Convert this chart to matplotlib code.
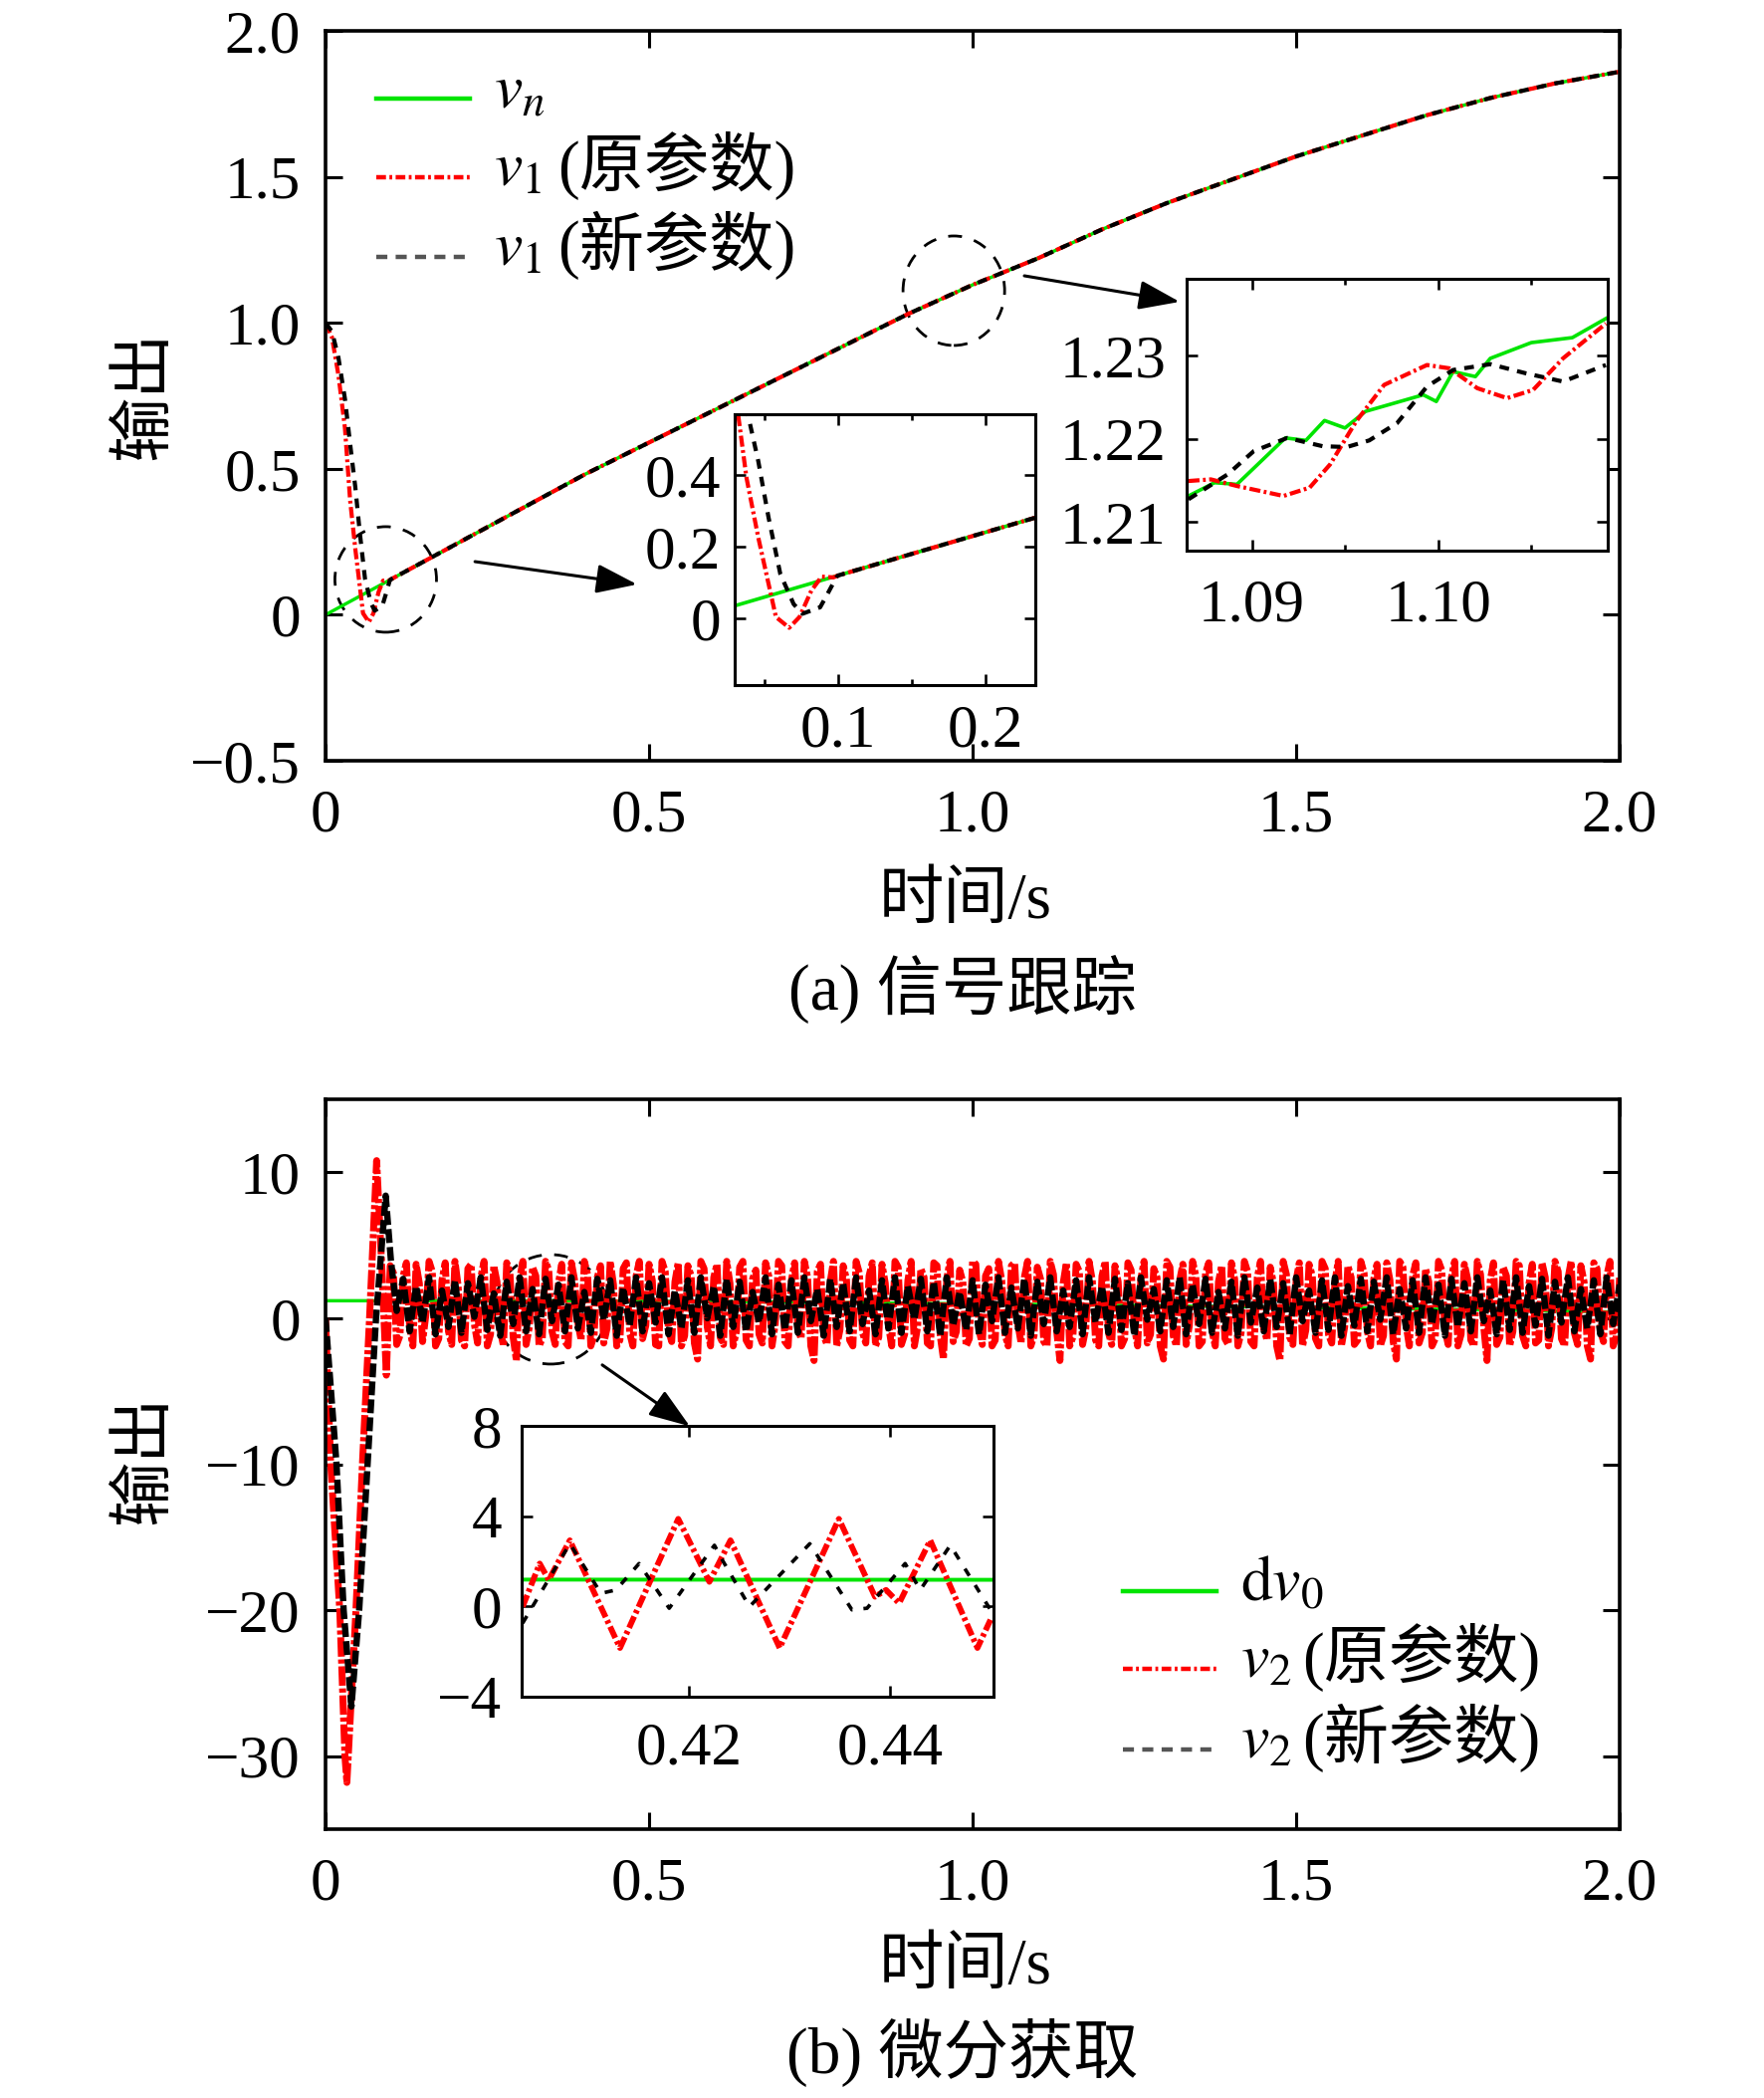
import numpy as np
import matplotlib
matplotlib.use("Agg")
import matplotlib.pyplot as plt
from matplotlib.patches import Ellipse
from matplotlib.lines import Line2D

plt.rcParams['font.family'] = ['Liberation Serif', 'Noto Sans CJK SC']
plt.rcParams['mathtext.fontset'] = 'stix'
plt.rcParams['lines.scale_dashes'] = False

W, H, DPI = 1772, 2107, 100

# ── (a) signal tracking ───────────────────────────────────────────────────────
t_coarse = [0.0, 0.1, 0.2, 0.3, 0.4, 0.5, 0.6, 0.7, 0.8, 0.9, 1.0,
            1.1, 1.2, 1.3, 1.4, 1.5, 1.6, 1.7, 1.8, 1.9, 2.0]
vn = [0.0, 0.12, 0.24, 0.36, 0.48, 0.59, 0.70, 0.81, 0.92, 1.03, 1.13,
      1.22, 1.32, 1.41, 1.49, 1.57, 1.64, 1.71, 1.77, 1.82, 1.86]

# transient of v1 before it joins vn (t < 0.1)
t_v1_old_start = [0.0, 0.01, 0.02, 0.03, 0.038, 0.046, 0.053, 0.058, 0.067,
                  0.074, 0.082, 0.089, 0.097]
v1_old_start = [1.0, 0.95, 0.82, 0.64, 0.392, 0.226, 0.097, 0.005, -0.025,
                0.005, 0.078, 0.117, 0.115]
t_v1_new_start = [0.0, 0.01, 0.02, 0.03, 0.039, 0.046, 0.053, 0.061, 0.070,
                  0.076, 0.088, 0.093, 0.099]
v1_new_start = [1.0, 0.97, 0.88, 0.74, 0.567, 0.438, 0.281, 0.124, 0.041,
                0.014, 0.032, 0.069, 0.115]

# detail around t = 1.1 s
t_zoom_vn = [1.0866, 1.0880, 1.0892, 1.0918, 1.0929, 1.0939, 1.0950, 1.0961,
             1.0992, 1.0999, 1.1008, 1.1020, 1.1028, 1.1050, 1.1072, 1.1090]
vn_zoom = [1.2131, 1.2147, 1.2145, 1.2201, 1.2198, 1.2222, 1.2213, 1.2233,
           1.2253, 1.2245, 1.2281, 1.2275, 1.2297, 1.2316, 1.2322, 1.2345]
t_zoom_old = [1.0866, 1.0878, 1.0892, 1.0917, 1.0931, 1.0942, 1.0956, 1.0971,
              1.0994, 1.1006, 1.1021, 1.1037, 1.1051, 1.1067, 1.1090]
v1_zoom_old = [1.2149, 1.2151, 1.2143, 1.2131, 1.2141, 1.2169, 1.2221, 1.2265,
               1.2289, 1.2285, 1.2261, 1.2249, 1.2259, 1.2297, 1.2339]
t_zoom_new = [1.0866, 1.0887, 1.0901, 1.0919, 1.0938, 1.0951, 1.0963, 1.0978,
              1.0994, 1.1008, 1.1028, 1.1047, 1.1067, 1.1090]
v1_zoom_new = [1.2127, 1.2157, 1.2185, 1.2201, 1.2191, 1.2190, 1.2198, 1.2219,
               1.2263, 1.2283, 1.2290, 1.2279, 1.2269, 1.2289]

# ── (b) derivative ────────────────────────────────────────────────────────────
dv0 = [1.20, 1.20, 1.20, 1.20, 1.19, 1.17, 1.14, 1.11, 1.07, 1.03, 0.99,
       0.95, 0.90, 0.85, 0.80, 0.75, 0.69, 0.63, 0.57, 0.50, 0.43]

t_v2_old_start = [0.0, 0.008, 0.022, 0.030, 0.033, 0.047, 0.057, 0.068,
                  0.079, 0.087, 0.094]
v2_old_start = [0.0, -10.0, -20.0, -30.0, -31.8, -20.0, -10.0, 0.0,
                10.8, 3.5, -3.9]
t_v2_new_start = [0.0, 0.017, 0.028, 0.040, 0.052, 0.065, 0.078, 0.093,
                  0.101, 0.110]
v2_new_start = [0.0, -10.0, -20.0, -26.6, -20.0, -10.0, 0.0, 8.4, 4.0, 0.5]

# steady-state chatter of v2 (original parameters), sampled every 0.005 s
t_v2_old_noise = np.round(np.arange(0.10, 2.0025, 0.005), 3)
v2_old_noise = [
    3.6, 3.1, -1.8, -1.2, 2.9, 3.8, -0.6, -1.9, 3.7, 2.4, -1.6, 0.2, 3.9, 3.2, -1.9, -1.4, 2.6, 3.8, -0.9, -1.8,
    3.9, 2.2, -1.5, -1.9, 3.4, 3.7, -0.4, -1.7, 2.8, 3.9, -1.9, -1.1, 3.6, 2.5, -0.8, -1.9, 3.8, 3.1, -1.3, -2.9,
    2.7, 3.9, -1.8, -0.6, 3.5, 2.9, -1.9, -1.4, 3.9, 3.3, -0.9, -1.8, 2.4, 3.7, -1.6, -1.9, 3.8, 2.6, -0.3, -1.5,
    3.9, 3.0, -1.9, -1.2, 2.8, 3.6, -1.7, -0.7, 3.9, 2.3, -1.9, -1.5, 3.4, 3.8, -1.0, -1.9, 2.9, 3.9, -1.4, -0.5,
    3.7, 2.6, -1.8, -1.9, 3.9, 3.2, -0.8, -1.6, 2.5, 3.8, -1.9, -1.2, 3.6, 2.9, -1.7, -2.8, 3.9, 3.4, -0.6, -1.9,
    2.8, 3.7, -1.3, -1.8, 3.9, 2.4, -1.9, -0.9, 3.5, 3.9, -1.5, -1.9, 2.7, 3.3, -1.1, -1.7, 3.8, 2.9, -1.9, -0.4,
    3.9, 3.6, -1.6, -1.9, 2.6, 3.8, -0.7, -1.4, 3.9, 2.8, -1.9, -2.9, 3.2, 3.7, -1.2, -1.8, 2.5, 3.9, -1.9, -0.8,
    3.6, 2.7, -1.5, -1.9, 3.9, 3.1, -1.0, -1.7, 2.9, 3.8, -1.9, -1.3, 3.7, 2.4, -0.5, -1.9, 3.9, 3.5, -1.8, -1.1,
    2.6, 3.9, -1.9, -0.6, 3.4, 2.8, -1.7, -1.9, 3.8, 3.6, -1.2, -2.8, 2.7, 3.9, -1.6, -0.9, 3.3, 2.5, -1.9, -1.4,
    3.9, 3.7, -0.8, -1.8, 2.9, 3.4, -1.9, -1.5, 3.9, 2.6, -1.1, -1.9, 3.6, 3.8, -0.4, -1.7, 2.8, 3.9, -1.9, -1.2,
    3.5, 2.7, -1.6, -1.9, 3.9, 3.0, -0.9, -2.9, 2.4, 3.8, -1.9, -1.3, 3.7, 3.2, -1.8, -0.7, 3.9, 2.6, -1.5, -1.9,
    2.9, 3.9, -1.0, -1.8, 3.6, 2.5, -1.9, -1.4, 3.8, 3.3, -0.6, -1.9, 2.7, 3.9, -1.7, -1.1, 3.4, 2.8, -1.9, -2.8,
    3.9, 3.5, -1.2, -1.9, 2.6, 3.7, -1.8, -0.5, 3.9, 2.9, -1.9, -1.6, 3.1, 3.8, -0.9, -1.9, 2.5, 3.6, -1.4, -1.8,
    3.8, 2.7, -1.9, -1.0, 3.9, 3.2, -1.6, -1.9, 2.8, 3.9, -0.7, -1.5, 3.5, 2.4, -1.9, -2.9, 3.9, 3.0, -1.3, -1.8,
    2.6, 3.8, -1.9, -0.8, 3.7, 2.9, -1.4, -1.9, 3.9, 3.4, -1.1, -1.7, 2.5, 3.9, -1.9, -0.6, 3.6, 2.8, -1.8, -1.5,
    3.9, 3.1, -0.9, -1.9, 2.7, 3.7, -1.9, -1.2, 3.8, 2.6, -1.6, -2.8, 3.9, 3.5, -0.5, -1.9, 2.9, 3.8, -1.7, -1.0,
    3.4, 2.5, -1.9, -1.4, 3.9, 3.3, -0.8, -1.8, 2.8, 3.9, -1.9, -1.1, 3.7, 2.7, -1.5, -1.9, 3.9, 3.0, -0.6, -2.9,
    2.6, 3.8, -1.8, -1.3, 3.5, 2.9, -1.9, -0.9, 3.9, 3.6, -1.2, -1.9, 2.4, 3.7, -1.7, -1.5, 3.8, 2.8, -1.9, -0.7,
    3.9, 3.2, -1.4, -1.9, 2.7, 3.9, -1.0, -1.8, 3.6, 2.5, -1.9, -2.8, 3.8, 3.4, -0.8, -1.6, 2.9, 3.9, -1.9, -1.2,
    2.9,
]
# steady-state chatter of v2 (new parameters), sampled every 0.01 s
t_v2_new_noise = np.round(np.arange(0.12, 2.005, 0.01), 2)
v2_new_noise = [
    2.7, -0.9, 2.2, -0.3, 2.8, -1.1, 1.9, -0.6, 2.6, -1.0,
    2.4, 0.1, 2.8, -0.8, 1.7, -1.2, 2.5, -0.4, 2.8, -0.9,
    2.0, -1.1, 2.7, -0.2, 2.3, -0.9, 2.8, -0.7, 1.8, -1.0,
    2.7, -0.1, 2.6, -1.2, 2.1, -0.5, 2.8, -0.9, 2.4, -0.3,
    2.8, -1.1, 1.9, -0.7, 2.6, -1.0, 2.8, 0.0, 2.2, -1.2,
    2.7, -0.6, 2.5, -0.9, 1.8, -0.3, 2.8, -1.1, 2.3, -0.8,
    2.6, -1.0, 2.8, -0.2, 2.0, -1.2, 2.7, -0.6, 2.4, -0.9,
    2.8, -0.4, 1.9, -1.1, 2.6, -0.7, 2.8, -1.0, 2.2, -0.1,
    2.7, -0.9, 2.5, -1.2, 2.8, -0.5, 1.8, -0.8, 2.6, -1.1,
    2.3, -0.2, 2.8, -1.0, 2.1, -0.7, 2.7, -1.2, 2.5, -0.4,
    2.8, -0.9, 1.9, -0.6, 2.6, -1.1, 2.8, -0.3, 2.2, -1.0,
    2.7, -0.8, 2.4, -1.2, 2.8, -0.1, 2.0, -0.9, 2.6, -0.6,
    2.8, -1.1, 2.3, -0.4, 2.7, -1.0, 1.8, -0.7, 2.5, -1.2,
    2.8, -0.3, 2.1, -0.9, 2.7, -0.6, 2.4, -1.1, 2.8, -0.2,
    1.9, -1.0, 2.6, -0.8, 2.8, -1.2, 2.2, -0.5, 2.7, -0.9,
    2.5, -0.1, 2.8, -1.1, 2.0, -0.7, 2.6, -1.0, 2.8, -0.4,
    2.3, -1.2, 2.7, -0.6, 2.4, -0.9, 2.8, -0.2, 1.9, -1.1,
    2.6, -0.8, 2.8, -1.0, 2.2, -0.5, 2.7, -1.2, 2.5, -0.3,
    2.8, -0.9, 2.0, -0.7, 2.6, -1.1, 2.8, -0.4, 2.3,
]

# detail around t = 0.42 s
t_zoom2_old = [0.4034, 0.4051, 0.4060, 0.4081, 0.4131, 0.4189, 0.4220, 0.4241,
               0.4290, 0.4349, 0.4385, 0.4396, 0.4409, 0.4440, 0.4487, 0.4500]
v2_zoom_old = [-0.01, 1.90, 1.17, 2.93, -1.84, 3.88, 1.09, 2.93,
               -1.84, 3.88, 0.43, 0.73, 0.14, 2.93, -1.84, -0.59]
t_zoom2_new = [0.4034, 0.4081, 0.4112, 0.4127, 0.4150, 0.4180, 0.4225, 0.4233,
               0.4260, 0.4320, 0.4362, 0.4377, 0.4415, 0.4430, 0.4460, 0.4500]
v2_zoom_new = [-0.74, 2.78, 0.58, 0.73, 1.90, -0.08, 2.71, 2.05,
               -0.01, 2.78, -0.15, -0.08, 1.90, 0.73, 2.71, -0.15]

t_v1_old = t_v1_old_start + t_coarse[1:]
v1_old = v1_old_start + vn[1:]
t_v1_new = t_v1_new_start + t_coarse[1:]
v1_new = v1_new_start + vn[1:]
t_v2_old = np.concatenate([t_v2_old_start, t_v2_old_noise])
v2_old = np.concatenate([v2_old_start, v2_old_noise])
t_v2_new = np.concatenate([t_v2_new_start, t_v2_new_noise])
v2_new = np.concatenate([v2_new_start, v2_new_noise])

GREEN, RED, BLACK = '#00e400', '#ff0000', '#000000'
DASHDOT = (0, (8, 2.5, 2, 2.5))
DASHED = (0, (7, 6))
CJK_FS = 47

fig = plt.figure(figsize=(W / DPI, H / DPI), dpi=DPI)


def box(l, t, r, b):
    return [l / W, 1 - b / H, (r - l) / W, (b - t) / H]


def style(ax, major=12, minor=6, lw=2.6, xpad=20, ypad=18):
    for s in ax.spines.values():
        s.set_linewidth(lw)
    ax.tick_params(which='both', direction='in', top=True, right=True,
                   labelsize=44, width=lw * 0.85)
    ax.tick_params(which='major', length=major)
    ax.tick_params(which='minor', length=minor)
    ax.tick_params(axis='x', pad=xpad)
    ax.tick_params(axis='y', pad=ypad)


ax1 = fig.add_axes(box(327, 31, 1627, 764))
ax2 = fig.add_axes(box(327, 1104, 1627, 1837))
in1 = fig.add_axes(box(738, 416, 1040, 688))
in2 = fig.add_axes(box(1192, 280, 1615, 553))
in3 = fig.add_axes(box(524, 1432, 998, 1704))

xt = [0, 0.5, 1.0, 1.5, 2.0]
xt_lab = ['0', '0.5', '1.0', '1.5', '2.0']

# ── top panel ────────────────────────────────────────────────────────────────
ax1.plot(t_coarse, vn, color=GREEN, lw=2.4)
ax1.plot(t_v1_old, v1_old, color=RED, lw=3.0, ls=DASHDOT)
ax1.plot(t_v1_new, v1_new, color=BLACK, lw=3.0, ls=DASHED)
ax1.set_xlim(0, 2)
ax1.set_ylim(-0.5, 2.0)
ax1.set_xticks(xt, xt_lab)
ax1.set_yticks([-0.5, 0, 0.5, 1.0, 1.5, 2.0],
               ['\u22120.5', '0', '0.5', '1.0', '1.5', '2.0'])
style(ax1)

ax1.add_patch(Ellipse((0.093, 0.121), 0.157, 0.3615, fill=False, ec='k',
                      lw=2.0, ls=(0, (10, 9)), clip_on=False))
ax1.add_patch(Ellipse((0.971, 1.11), 0.157, 0.375, fill=False, ec='k',
                      lw=2.0, ls=(0, (10, 9)), clip_on=False))
arrow = dict(arrowstyle='-|>,head_length=1.4,head_width=0.5', color='k',
             lw=2.2, shrinkA=0, shrinkB=0, mutation_scale=18)
ax1.annotate('', xy=(0.4815, 0.104), xytext=(0.231, 0.182), arrowprops=arrow)
ax1.annotate('', xy=(1.32, 1.072), xytext=(1.08, 1.161), arrowprops=arrow)

in1.plot(t_coarse, vn, color=GREEN, lw=2.6)
in1.plot(t_v1_old, v1_old, color=RED, lw=3.0, ls=DASHDOT)
in1.plot(t_v1_new, v1_new, color=BLACK, lw=3.0, ls=DASHED)
in1.set_xlim(0.03, 0.234)
in1.set_ylim(-0.184, 0.568)
in1.set_xticks([0.1, 0.2], ['0.1', '0.2'])
in1.set_xticks([0.05, 0.15], minor=True)
in1.set_yticks([0, 0.2, 0.4], ['0', '0.2', '0.4'])
style(in1, major=8, minor=4, lw=2.2, xpad=14, ypad=10)

in2.plot(t_zoom_vn, vn_zoom, color=GREEN, lw=2.6)
in2.plot(t_zoom_old, v1_zoom_old, color=RED, lw=3.0, ls=DASHDOT)
in2.plot(t_zoom_new, v1_zoom_new, color=BLACK, lw=3.0, ls=DASHED)
in2.set_xlim(1.0865, 1.1091)
in2.set_ylim(1.2065, 1.2393)
in2.set_xticks([1.09, 1.10], ['1.09', '1.10'])
in2.set_xticks([1.095, 1.105], minor=True)
in2.set_yticks([1.21, 1.22, 1.23], ['1.21', '1.22', '1.23'])
style(in2, major=8, minor=4, lw=2.2, xpad=20, ypad=15)

# ── bottom panel ─────────────────────────────────────────────────────────────
ax2.plot(t_coarse, dv0, color=GREEN, lw=2.4)
ax2.plot(t_v2_old, v2_old, color=RED, lw=5.0, ls=(0, (14, 2, 3, 2)))
ax2.plot(t_v2_new, v2_new, color=BLACK, lw=4.6, ls=(0, (10, 3)))
ax2.set_xlim(0, 2)
ax2.set_ylim(-35, 15)
ax2.set_xticks(xt, xt_lab)
ax2.set_yticks([-30, -20, -10, 0, 10],
               ['\u221230', '\u221220', '\u221210', '0', '10'])
style(ax2)

ax2.add_patch(Ellipse((0.348, 0.61), 0.175, 7.5, fill=False, ec='k',
                      lw=2.0, ls=(0, (10, 9)), clip_on=False))
ax2.annotate('', xy=(0.563, -7.4), xytext=(0.4277, -3.2), arrowprops=arrow)

in3.plot(t_coarse, dv0, color=GREEN, lw=2.8)
in3.plot(t_zoom2_old, v2_zoom_old, color=RED, lw=4.2, ls=(0, (9, 2.5, 2.5, 2.5)))
in3.plot(t_zoom2_new, v2_zoom_new, color=BLACK, lw=2.6, ls=(0, (6, 8)))
in3.set_xlim(0.4033, 0.4503)
in3.set_ylim(-4, 8)
in3.set_xticks([0.42, 0.44], ['0.42', '0.44'])
in3.set_yticks([-4, 0, 4, 8], ['\u22124', '0', '4', '8'])
style(in3, major=8, minor=4, lw=2.2, xpad=18, ypad=14)

# ── legends (drawn by hand so math and Chinese can share one row) ───────────
def legend_row(x0, y, color, ls, lw, math, cjk, cjk_x):
    fig.add_artist(Line2D([x0 / W, (x0 + 94) / W], [1 - y / H, 1 - y / H],
                          color=color, ls=ls, lw=lw, transform=fig.transFigure))
    fig.text((x0 + 118) / W, 1 - (y + 9) / H, math, fontsize=46,
             va='baseline', ha='left')
    if cjk:
        fig.text(cjk_x / W, 1 - (y + 9) / H, cjk, fontsize=CJK_FS,
                 va='baseline', ha='left')


legend_row(378, 99, GREEN, '-', 3.2, r'$v_n$', '', 0)
legend_row(378, 178, RED, (0, (7, 2.5, 2, 2.5)), 3.2, r'$v_1$', '(原参数)', 560)
legend_row(378, 258, '#555555', (0, (8, 6)), 3.2, r'$v_1$', '(新参数)', 560)

legend_row(1128, 1598, GREEN, '-', 3.2, r'$\mathrm{d}v_0$', '', 0)
legend_row(1128, 1676, RED, (0, (7, 2.5, 2, 2.5)), 3.2, r'$v_2$', '(原参数)', 1308)
legend_row(1128, 1757, '#555555', (0, (8, 6)), 3.2, r'$v_2$', '(新参数)', 1308)

# ── axis labels and captions ─────────────────────────────────────────────────
for yc in (397, 1466):
    fig.text(146 / W, 1 - yc / H, '输出', rotation=90, fontsize=CJK_FS,
             ha='center', va='center')
fig.text(970 / W, 1 - 906 / H, '时间/s', fontsize=CJK_FS, ha='center', va='center')
fig.text(967 / W, 1 - 993 / H, '(a) 信号跟踪', fontsize=CJK_FS, ha='center', va='center')
fig.text(970 / W, 1 - 1976 / H, '时间/s', fontsize=CJK_FS, ha='center', va='center')
fig.text(967 / W, 1 - 2062 / H, '(b) 微分获取', fontsize=CJK_FS, ha='center', va='center')

fig.savefig('out.png', dpi=DPI)
